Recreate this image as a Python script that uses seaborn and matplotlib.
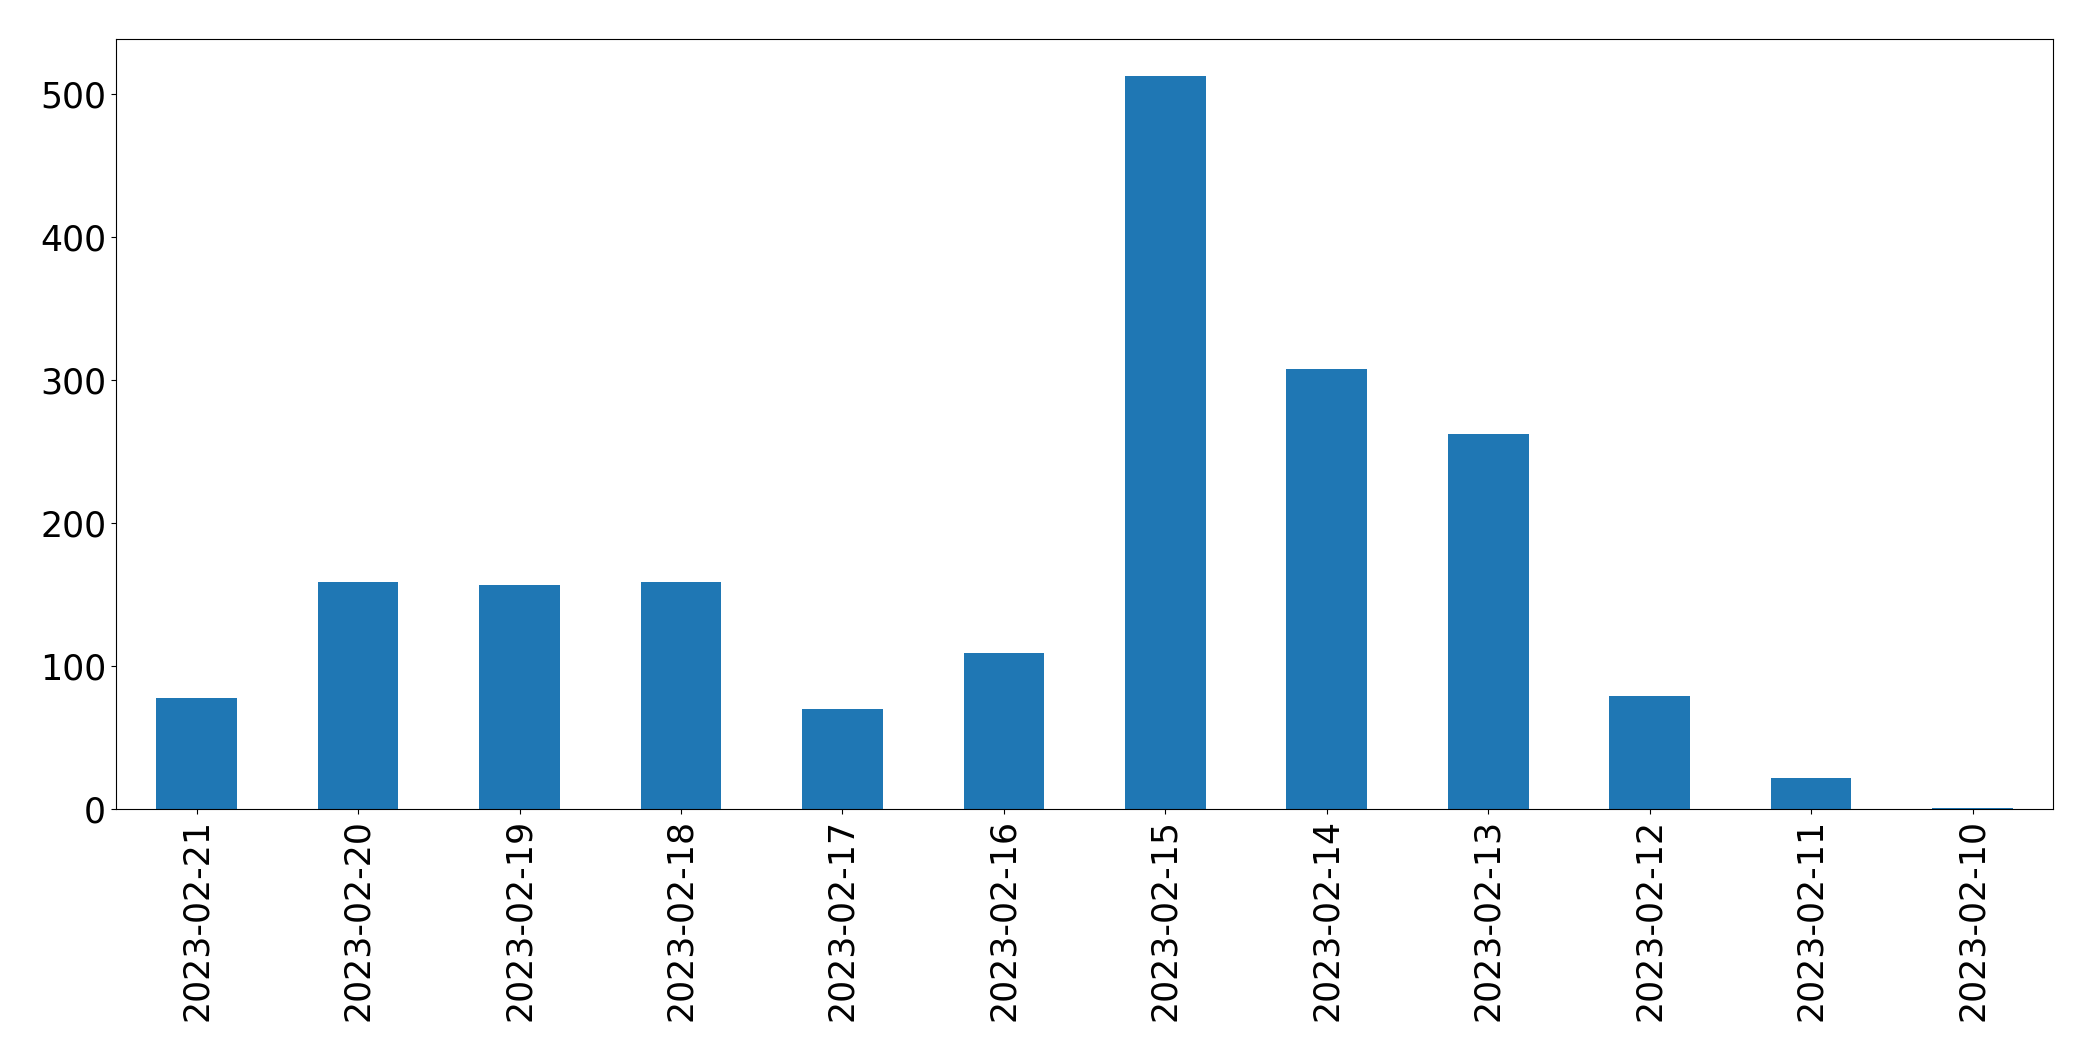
import numpy as np
import pandas as pd
import matplotlib
matplotlib.use("Agg")
import matplotlib.pyplot as plt
import seaborn as sns

# Daily counts, newest first (as in the reference)
dates = [
    "2023-02-21", "2023-02-20", "2023-02-19", "2023-02-18",
    "2023-02-17", "2023-02-16", "2023-02-15", "2023-02-14",
    "2023-02-13", "2023-02-12", "2023-02-11", "2023-02-10",
]
counts = [78, 159, 157, 159, 70, 109, 513, 308, 262, 79, 22, 1]

BAR_COLOR = "#1f77b4"

df = pd.DataFrame({"date": dates, "count": counts})

fig, ax = plt.subplots(figsize=(20.93, 10.61), dpi=100)
fig.subplots_adjust(left=0.0554, right=0.981, top=0.9632, bottom=0.2375)

sns.barplot(
    data=df,
    x="date",
    y="count",
    order=dates,
    color=BAR_COLOR,
    saturation=1,
    width=0.5,
    ax=ax,
)

ax.set_xlim(-0.5, len(dates) - 0.5)
ax.set_ylim(0, max(counts) * 1.05)
ax.set_xlabel("")
ax.set_ylabel("")
ax.tick_params(axis="x", rotation=90, labelsize=25)
ax.tick_params(axis="y", labelsize=25)
for side in ["top", "right", "left", "bottom"]:
    ax.spines[side].set_visible(True)

fig.savefig("out.png", dpi=100)
plt.close(fig)
